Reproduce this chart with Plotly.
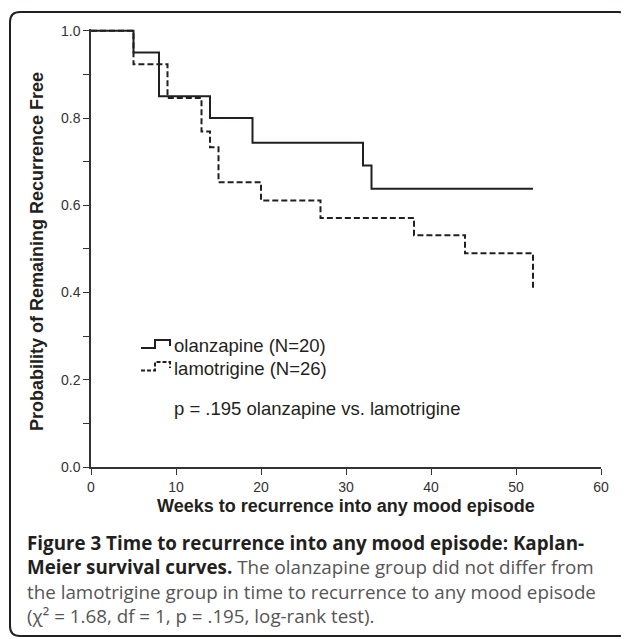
import plotly.graph_objects as go

# ---- data ----
olz_weeks = [0, 5, 8, 14, 19, 32, 33, 52]
olz_surv = [1.0, 0.95, 0.85, 0.80, 0.743, 0.691, 0.638, 0.638]

lam_weeks = [0, 5, 9, 13, 14, 15, 20, 27, 38, 44, 52, 52]
lam_surv = [1.0, 0.923, 0.846, 0.769, 0.733, 0.653, 0.611, 0.571, 0.531, 0.490, 0.490, 0.410]

x_ticks = [0, 10, 20, 30, 40, 50, 60]
y_ticks = [0.0, 0.2, 0.4, 0.6, 0.8, 1.0]

olz_label = "olanzapine (N=20)"
lam_label = "lamotrigine (N=26)"
p_text = "p = .195 olanzapine vs. lamotrigine"
x_title = "Weeks to recurrence into any mood episode"
y_title = "Probability of Remaining Recurrence Free"
caption_lines = [
    "<b>Figure 3 Time to recurrence into any mood episode: Kaplan-</b>",
    "<b>Meier survival curves.</b> <span style='color:#555555'>The olanzapine group did not differ from</span>",
    "<span style='color:#555555'>the lamotrigine group in time to recurrence to any mood episode</span>",
    "<span style='color:#555555'>(χ² = 1.68, df = 1, p = .195, log-rank test).</span>",
]

# ---- layout geometry (reference pixel coords, page has an 8px body margin) ----
OFF = 8
W, H = 629 - OFF, 639 - OFF
PLOT_L, PLOT_R, PLOT_T, PLOT_B = 91, 601, 29, 467   # in reference pixels
L = PLOT_L - OFF
T = PLOT_T - OFF
R = W - (PLOT_R - OFF)
B = H - (PLOT_B - OFF)
PW, PH = W - L - R, H - T - B
INK = "#231f20"


def px(x):
    return (x - OFF - L) / PW


def py(y):
    return (H - B - (y - OFF)) / PH


fig = go.Figure()
fig.add_trace(go.Scatter(x=lam_weeks, y=lam_surv, mode="lines", line_shape="hv",
                         line=dict(color=INK, width=2, dash="6px,3px"),
                         name=lam_label, showlegend=False))
fig.add_trace(go.Scatter(x=olz_weeks, y=olz_surv, mode="lines", line_shape="hv",
                         line=dict(color=INK, width=2),
                         name=olz_label, showlegend=False))

shapes = []
# rounded frame
r = 10
x0, y0, x1, y1 = 10, 12, 628, 636
path = (f"M {px(x0)},{py(y0 + r)} Q {px(x0)},{py(y0)} {px(x0 + r)},{py(y0)} "
        f"L {px(x1 - r)},{py(y0)} Q {px(x1)},{py(y0)} {px(x1)},{py(y0 + r)} "
        f"L {px(x1)},{py(y1 - r)} Q {px(x1)},{py(y1)} {px(x1 - r)},{py(y1)} "
        f"L {px(x0 + r)},{py(y1)} Q {px(x0)},{py(y1)} {px(x0)},{py(y1 - r)} Z")
shapes.append(dict(type="path", xref="paper", yref="paper", path=path,
                   line=dict(color=INK, width=2), layer="below"))


# legend step icons
def step_icon(ylow, yhigh, yend, dash):
    p = (f"M {px(141)},{py(ylow)} L {px(155)},{py(ylow)} L {px(155)},{py(yhigh)} "
         f"L {px(170)},{py(yhigh)} L {px(170)},{py(yend)}")
    return dict(type="path", xref="paper", yref="paper", path=p,
                line=dict(color=INK, width=2, dash=dash))


shapes.append(step_icon(348, 340, 346, "solid"))
shapes.append(step_icon(370.5, 362, 368, "4px,2px"))

annotations = []
legend_font = dict(family="Liberation Sans, Arial", size=18.5, color=INK)
annotations.append(dict(x=px(172), y=py(346), xref="paper", yref="paper", text=olz_label,
                        showarrow=False, xanchor="left", yanchor="middle", font=legend_font))
annotations.append(dict(x=px(172), y=py(368), xref="paper", yref="paper", text=lam_label,
                        showarrow=False, xanchor="left", yanchor="middle", font=legend_font))
annotations.append(dict(x=px(172), y=py(408), xref="paper", yref="paper", text=p_text,
                        showarrow=False, xanchor="left", yanchor="middle", font=legend_font))

title_font = dict(family="Liberation Sans, Arial", size=18, color=INK)
annotations.append(dict(x=px(345.7), y=py(506), xref="paper", yref="paper", text=f"<b>{x_title}</b>",
                        showarrow=False, xanchor="center", yanchor="middle", font=title_font))
annotations.append(dict(x=px(37), y=py(252), xref="paper", yref="paper", text=f"<b>{y_title}</b>",
                        showarrow=False, xanchor="center", yanchor="middle", textangle=-90,
                        font=title_font))

cap_font = dict(family="Open Sans", size=18.8, color=INK)
for line, yy in zip(caption_lines, [543, 567, 592, 616]):
    annotations.append(dict(x=px(25), y=py(yy), xref="paper", yref="paper", text=line,
                            showarrow=False, xanchor="left", yanchor="middle", font=cap_font,
                            align="left"))

tick_font = dict(family="Liberation Sans, Arial", size=14, color="#333333")
fig.update_layout(
    width=W, height=H,
    margin=dict(l=L, r=R, t=T, b=B, autoexpand=False),
    paper_bgcolor="white", plot_bgcolor="white",
    shapes=shapes, annotations=annotations,
    xaxis=dict(range=[0, 60], tickvals=x_ticks, ticktext=[str(v) for v in x_ticks],
               ticks="outside", ticklen=6, tickwidth=1.2, tickcolor="#333333",
               showline=True, linecolor="#333333", linewidth=1.5,
               showgrid=False, zeroline=False, tickfont=tick_font, fixedrange=True),
    yaxis=dict(range=[0, 1.004], tickvals=y_ticks, ticktext=[f"{v:.1f}" for v in y_ticks],
               ticks="outside", ticklen=6, tickwidth=1.2, tickcolor="#333333",
               minor=dict(dtick=0.1, tick0=0, ticks="outside", ticklen=6, tickwidth=1.2,
                          tickcolor="#333333", showgrid=False),
               showline=True, linecolor="#333333", linewidth=1.5,
               showgrid=False, zeroline=False, tickfont=tick_font, fixedrange=True),
    showlegend=False,
)

fig.write_html("out.html")
